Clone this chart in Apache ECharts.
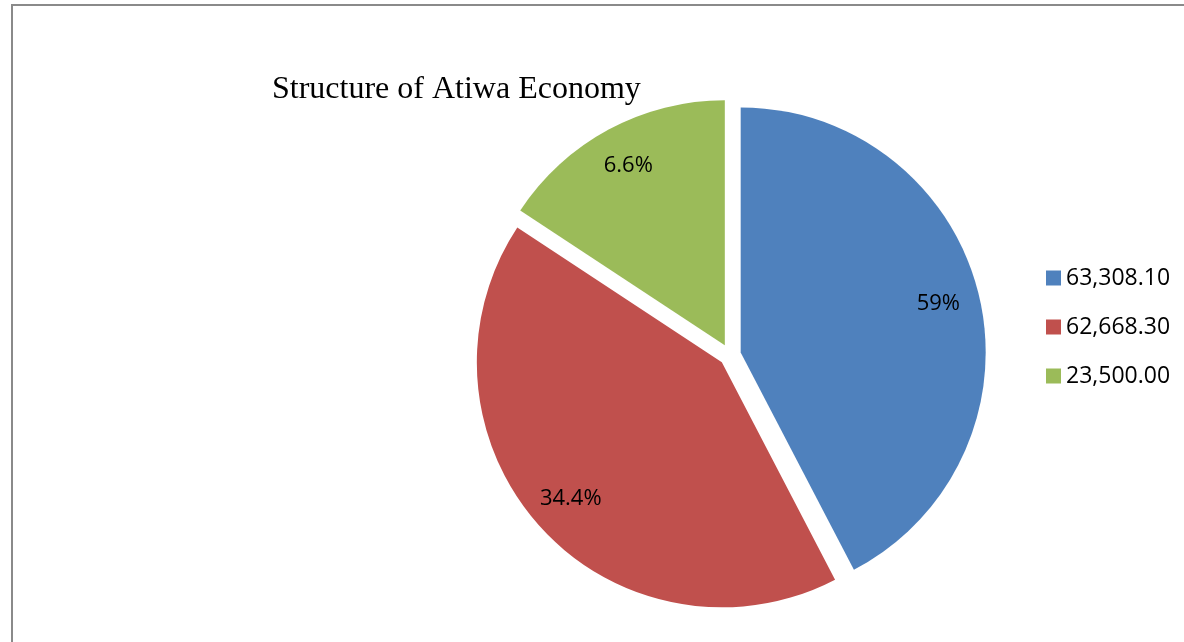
<!DOCTYPE html>
<html>
<head>
<meta charset="utf-8">
<script src="https://cdn.jsdelivr.net/npm/echarts@6/dist/echarts.min.js"></script>
<style>
  html, body { margin: 0; padding: 0; background: #fff; }
  #chart { width: 1184px; height: 642px; }
</style>
</head>
<body>
<div id="chart"></div>
<script>
// slice values (legend names) and the percent labels printed on the slices
var categories = ['63,308.10', '62,668.30', '23,500.00']
var values = [63308.10, 62668.30, 23500.00]
var sliceLabels = ['59%', '34.4%', '6.6%']
var colors = ['#4F81BD', '#C0504D', '#9BBB59']

var chart = echarts.init(document.getElementById('chart'))

var pieData = categories.map(function (name, i) {
  return { name: name, value: values[i], selected: true, itemStyle: { color: colors[i] } }
})
// same slices again, transparent, only used to put the labels further out
var labelData = categories.map(function (name, i) {
  return { name: name, value: values[i], selected: true, itemStyle: { color: 'transparent' } }
})

chart.setOption({
  animation: false,
  backgroundColor: '#fff',
  graphic: [{
    type: 'rect',
    silent: true,
    shape: { x: 12, y: 5, width: 1300, height: 800 },
    style: { fill: 'none', stroke: '#8a8a8a', lineWidth: 2 }
  }],
  title: {
    text: 'Structure of Atiwa Economy',
    left: 267,
    top: 69,
    textStyle: {
      fontFamily: 'Liberation Serif',
      fontSize: 32,
      fontWeight: 'normal',
      color: '#000'
    }
  },
  legend: {
    orient: 'vertical',
    left: 1041,
    top: 261,
    icon: 'rect',
    itemWidth: 15,
    itemHeight: 15,
    itemGap: 25,
    selectedMode: false,
    data: categories,
    textStyle: {
      fontFamily: 'Open Sans',
      fontSize: 23,
      lineHeight: 24,
      color: '#000'
    }
  },
  series: [{
    type: 'pie',
    center: [730, 355],
    radius: [0, 245],
    startAngle: 90,
    clockwise: true,
    selectedMode: 'multiple',
    selectedOffset: 11,
    label: { show: false },
    labelLine: { show: false },
    emphasis: { disabled: true },
    select: { itemStyle: { borderWidth: 0 } },
    itemStyle: { borderWidth: 0 },
    data: pieData
  }, {
    type: 'pie',
    silent: true,
    center: [730, 355],
    radius: [156, 245],
    startAngle: 90,
    clockwise: true,
    selectedMode: 'multiple',
    selectedOffset: 11,
    emphasis: { disabled: true },
    itemStyle: { borderWidth: 0 },
    select: { itemStyle: { borderWidth: 0, color: 'transparent' } },
    labelLine: { show: false },
    label: {
      show: true,
      position: 'inside',
      offset: [0, -4],
      fontFamily: 'Open Sans',
      fontSize: 22,
      color: '#000',
      formatter: function (p) { return sliceLabels[p.dataIndex] }
    },
    data: labelData
  }]
})

window.onresize = function () { chart.resize() }
</script>
</body>
</html>
